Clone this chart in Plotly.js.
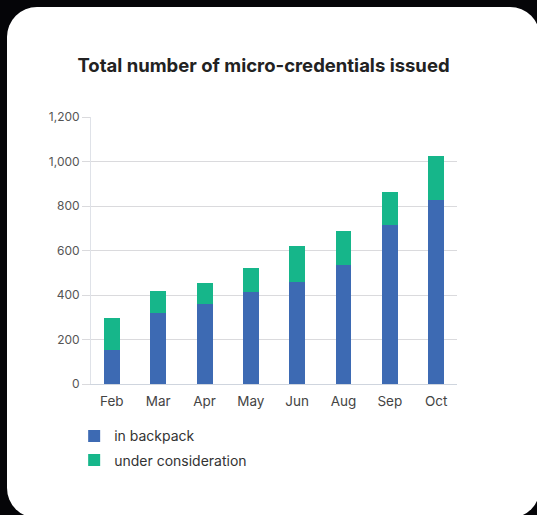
<!DOCTYPE html>
<html>
<head>
<meta charset="utf-8">
<script src="https://cdn.plot.ly/plotly-3.0.1.min.js"></script>
<style>
  html, body { margin: 0; padding: 0; background: #050508; width: 537px; height: 515px; overflow: hidden; }
  #card { position: absolute; left: 7px; top: 7px; width: 533px; height: 511px; background: #ffffff; border-radius: 30px; }
  #chart { position: absolute; left: 0; top: 0; width: 537px; height: 515px; }
</style>
</head>
<body>
<div id="card"></div>
<div id="chart"></div>
<script>
const months = ["Feb", "Mar", "Apr", "May", "Jun", "Aug", "Sep", "Oct"];
const inBackpack = [151, 319, 360, 413, 458, 535, 715, 827];
const underConsideration = [144, 99, 94, 108, 162, 153, 148, 198];
const seriesNames = ["in backpack", "under consideration"];
const yTickVals = [0, 200, 400, 600, 800, 1000, 1200];
const yTickText = ["0", "200", "400", "600", "800", "1,000", "1,200"];
const chartTitle = "Total number of micro-credentials issued";

const traces = [
  { type: "bar", x: months, y: inBackpack, name: seriesNames[0], legendgroup: "a",
    marker: { color: "#3d6ab3" }, hoverinfo: "x+y+name" },
  { type: "bar", x: months, y: underConsideration, name: seriesNames[1], legendgroup: "b",
    marker: { color: "#16b68a" }, hoverinfo: "x+y+name" }
];

const layout = {
  width: 537, height: 515,
  paper_bgcolor: "rgba(0,0,0,0)", plot_bgcolor: "rgba(0,0,0,0)",
  margin: { l: 91, r: 80, t: 117, b: 131 },
  barmode: "stack", bargap: 0.655,
  title: { text: chartTitle, x: 0.4907, xref: "container", xanchor: "center",
           y: 0.872, yref: "container", yanchor: "middle",
           font: { family: "Inter, sans-serif", size: 18.5, weight: 700, color: "#222222" } },
  font: { family: "Inter, sans-serif" },
  xaxis: { type: "category", range: [-0.45, 7.45], showgrid: false, showline: true,
           linecolor: "#cfd5de", linewidth: 1, ticks: "", zeroline: false,
           ticklabelstandoff: 5,
           tickfont: { size: 13.5, color: "#444444" } },
  yaxis: { range: [0, 1200], tickvals: yTickVals, ticktext: yTickText,
           showgrid: true, gridcolor: "#dadadd", gridwidth: 1, showline: true,
           linecolor: "#dfe2e8", linewidth: 1, ticks: "outside", ticklen: 8,
           tickcolor: "#dadadd", zeroline: false,
           tickfont: { size: 12, color: "#555555" } },
  showlegend: true,
  legend: { orientation: "v", x: -0.046, xanchor: "left", y: -0.136, yanchor: "top",
            traceorder: "grouped", tracegroupgap: 3,
            font: { size: 14, color: "#333333" },
            bgcolor: "rgba(0,0,0,0)" }
};

Plotly.newPlot("chart", traces, layout, { displayModeBar: false, staticPlot: true });
</script>
</body>
</html>
